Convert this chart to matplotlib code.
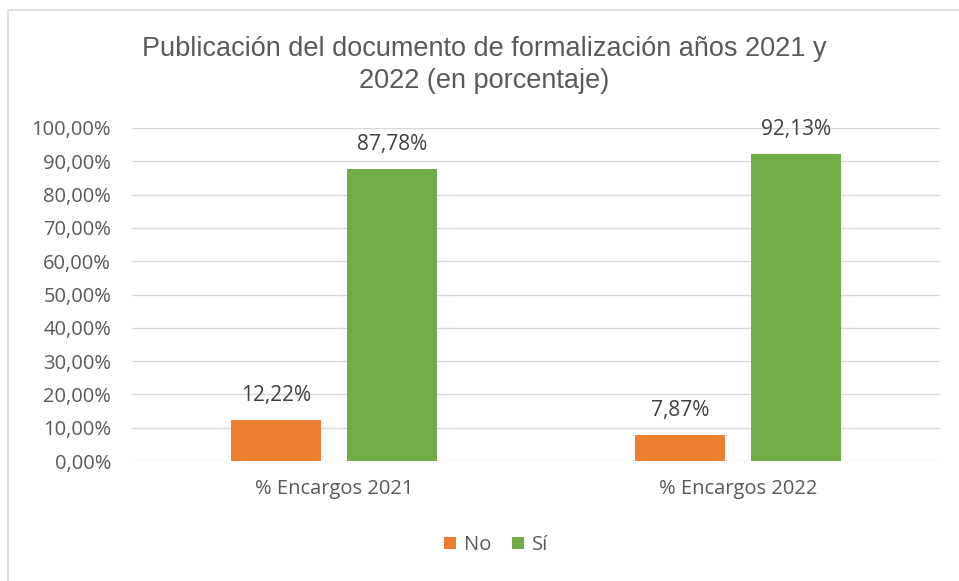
import matplotlib
matplotlib.use("Agg")
import matplotlib.pyplot as plt
from matplotlib.patches import Rectangle
import numpy as np

categories = ["% Encargos 2021", "% Encargos 2022"]
series_names = ["No", "Sí"]
no_values = [12.22, 7.87]
si_values = [87.78, 92.13]
yticks = [0, 10, 20, 30, 40, 50, 60, 70, 80, 90, 100]
title = "Publicación del documento de formalización años 2021 y\n2022 (en porcentaje)"

orange = "#ED7D31"
green = "#70AD47"
text_gray = "#595959"

fig = plt.figure(figsize=(9.59, 5.81), dpi=100)
fig.patch.set_facecolor("white")
fig.patches.append(Rectangle((8/959, -0.1), 1.1, 1 - 10/581 + 0.1, transform=fig.transFigure,
                             fill=False, edgecolor="#D9D9D9", linewidth=1.2))

ax = fig.add_axes([132/959, 1 - 461/581, (940-132)/959, (461-128)/581])
x = np.arange(len(categories))
w = 0.222
off = 0.143
b1 = ax.bar(x - off, no_values, w, color=orange, label=series_names[0], zorder=3)
b2 = ax.bar(x + off, si_values, w, color=green, label=series_names[1], zorder=3)

ax.set_xlim(-0.5, 1.5)
ax.set_ylim(0, 100)
ax.set_yticks(yticks)
ax.set_yticklabels([f"{v:.2f}%".replace(".", ",") for v in yticks])
ax.set_xticks(x)
ax.set_xticklabels(categories)
ax.grid(axis="y", color="#D9D9D9", linewidth=1, zorder=0)
for s in ax.spines.values():
    s.set_visible(False)
ax.tick_params(axis="both", length=0, labelsize=14.5, colors=text_gray)
ax.tick_params(axis="y", pad=15)
ax.tick_params(axis="x", pad=13)
for lab in ax.get_xticklabels() + ax.get_yticklabels():
    lab.set_family("Open Sans")

for bars, vals in ((b1, no_values), (b2, si_values)):
    for r, v in zip(bars, vals):
        ax.annotate(f"{v:.2f}%".replace(".", ","), (r.get_x() + r.get_width()/2, v),
                    xytext=(0, 10), textcoords="offset points", ha="center", va="bottom",
                    fontsize=15, color="#404040", family="Open Sans")

fig.text(0.505, 1 - 65/581, title, ha="center", va="center", fontsize=19.5,
         color=text_gray, family="Liberation Sans", linespacing=1.28)

leg = fig.legend(handles=[b1, b2], labels=series_names, loc="center",
                 bbox_to_anchor=(496/959, 1 - 545/581), ncol=2, frameon=False,
                 handlelength=0.6, handleheight=0.6, handletextpad=0.4, columnspacing=1.0,
                 prop={"family": "Open Sans", "size": 14.5})
for t in leg.get_texts():
    t.set_color(text_gray)

fig.savefig("out.png", dpi=100)
